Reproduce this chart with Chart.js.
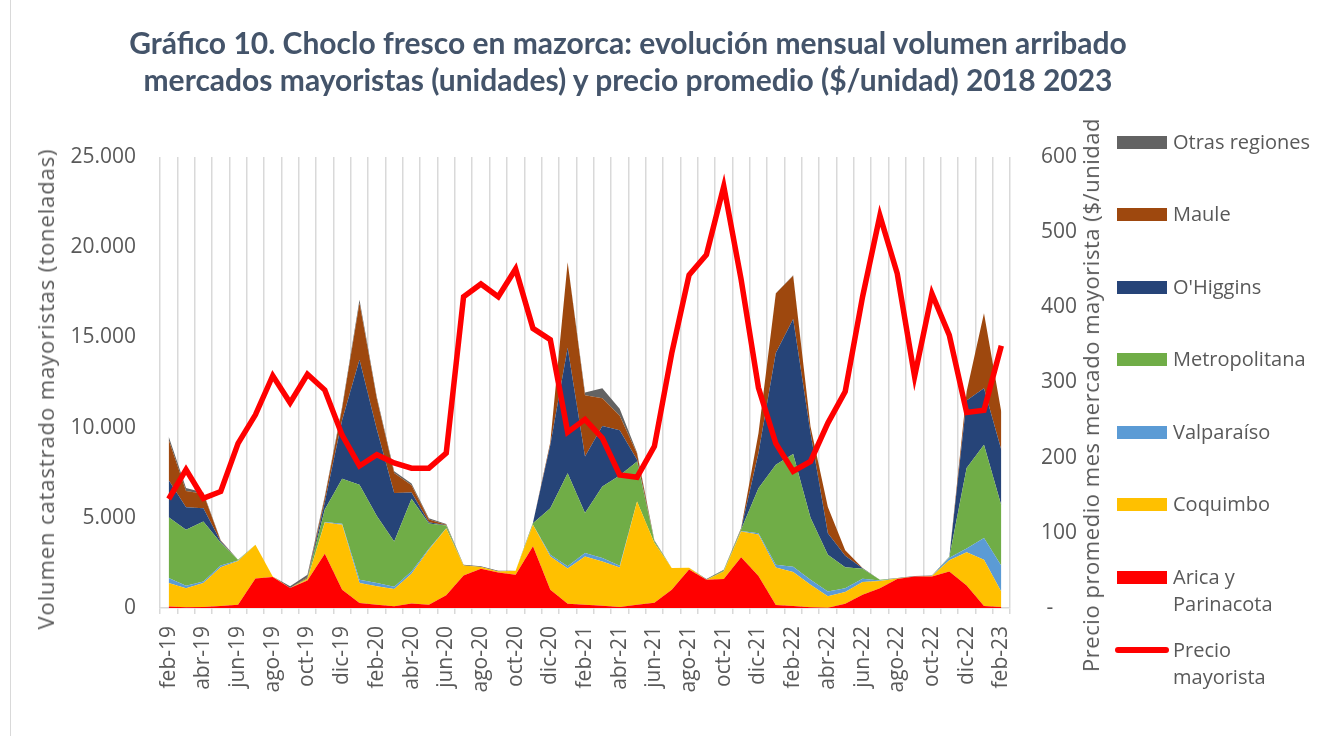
<!DOCTYPE html>
<html><head><meta charset="utf-8">
<script src="https://cdn.jsdelivr.net/npm/chart.js@4.4.0/dist/chart.umd.min.js"></script>
<style>
html,body{margin:0;padding:0;background:#fff;}
#wrap{position:relative;width:1321px;height:736px;overflow:hidden;font-family:"Open Sans",sans-serif;color:#595959;background:#fff;}
#c{position:absolute;left:0;top:0;}
#frame{position:absolute;left:10px;top:-2px;width:1400px;height:1000px;border:1px solid #D9D9D9;}
#title{position:absolute;left:0;top:24px;width:1256px;text-align:center;color:#44546A;font-family:Lato,sans-serif;font-weight:bold;font-size:30px;line-height:37px;}
#ltitle{position:absolute;left:45px;top:389px;transform:translate(-50%,-50%) rotate(-90deg);white-space:nowrap;font-size:22px;letter-spacing:0.9px;color:#595959;}
#rtitle{position:absolute;left:1090px;top:395px;transform:translate(-50%,-50%) rotate(-90deg);white-space:nowrap;font-size:22px;letter-spacing:0.55px;color:#595959;}
.lg{position:absolute;left:1173px;font-size:20px;line-height:27px;color:#595959;white-space:nowrap;}
.sw{position:absolute;left:1117px;width:50px;height:13px;}
</style></head>
<body><div id="wrap">
<div id="frame"></div>
<canvas id="c" width="1321" height="736"></canvas>
<div id="title">Gráfico 10. Choclo fresco en mazorca: evolución mensual volumen arribado<br>mercados mayoristas (unidades) y precio promedio ($/unidad) 2018 2023</div>
<div id="ltitle">Volumen catastrado mayoristas (toneladas)</div>
<div id="rtitle">Precio promedio mes mercado mayorista ($/unidad</div>
<div id="legend"></div>
</div>
<script>
const months = ['feb-19','mar-19','abr-19','may-19','jun-19','jul-19','ago-19','sep-19','oct-19','nov-19','dic-19','ene-20',
'feb-20','mar-20','abr-20','may-20','jun-20','jul-20','ago-20','sep-20','oct-20','nov-20','dic-20','ene-21',
'feb-21','mar-21','abr-21','may-21','jun-21','jul-21','ago-21','sep-21','oct-21','nov-21','dic-21','ene-22',
'feb-22','mar-22','abr-22','may-22','jun-22','jul-22','ago-22','sep-22','oct-22','nov-22','dic-22','ene-23','feb-23'];

const arica = [90,40,60,110,180,1630,1720,1110,1520,3010,1016,280,185,100,250,180,700,1800,2170,1970,1850,3420,1016,230,185,130,60,185,290,1016,2130,1570,1607,2815,1780,170,110,40,20,230,740,1100,1610,1740,1750,2030,1250,110,55];
const coquimbo = [1295,1050,1325,2150,2420,1880,20,0,80,1735,3600,1100,1015,950,1650,3050,3700,550,100,60,220,1200,1845,1960,2676,2450,2180,5720,3310,1200,100,0,420,1430,2290,2070,1880,1250,630,650,700,400,30,0,20,620,1840,2570,840];
const valparaiso = [280,150,90,100,30,0,0,0,0,20,50,185,185,130,130,50,20,0,0,0,0,0,95,130,185,185,100,0,0,0,0,0,0,20,70,160,300,280,270,220,180,30,0,0,0,130,210,1200,1450];
const metropolitana = [3360,3100,3320,1260,40,0,0,0,50,700,2500,5270,3715,2500,4020,1400,150,0,0,0,0,80,2580,5150,2215,3970,5000,2215,100,0,0,0,50,80,2500,5540,6250,3430,2030,1160,550,40,0,0,0,40,4460,5170,3340];
const ohiggins = [2050,1240,740,60,0,0,0,0,0,400,3250,6930,4800,2700,350,80,20,0,0,0,0,30,3500,6950,3138,3360,2520,100,0,0,0,0,0,40,1950,6190,7480,4700,1200,640,30,0,0,0,0,0,3740,3130,3080];
const maule = [2250,900,800,50,0,0,0,0,50,250,650,3140,1700,1100,400,150,20,0,0,0,0,0,150,4750,3400,1530,800,350,0,0,0,0,0,30,1100,3300,2400,360,1450,300,20,0,0,0,0,0,500,4160,2100];
const otras = [185,170,70,20,10,0,0,90,150,80,100,180,100,100,100,60,50,50,40,40,0,0,0,0,150,550,380,50,50,0,0,40,50,20,0,20,30,0,0,0,0,0,20,40,30,20,0,0,0];
const precio = [145,184,146,155,219,257,309,273,311,290,230,189,204,193,186,186,206,414,431,414,451,372,357,234,251,226,177,174,215,339,443,470,561,437,293,219,182,195,246,288,414,522,445,308,418,363,260,263,349];

const leftTicks = [0,5000,10000,15000,20000,25000];
const rightTicks = [0,100,200,300,400,500,600];

const series = [
  {label:'Arica y Parinacota', data:arica, color:'#FF0000'},
  {label:'Coquimbo', data:coquimbo, color:'#FFC000'},
  {label:'Valparaíso', data:valparaiso, color:'#5B9BD5'},
  {label:'Metropolitana', data:metropolitana, color:'#70AD47'},
  {label:"O'Higgins", data:ohiggins, color:'#264478'},
  {label:'Maule', data:maule, color:'#9E480E'},
  {label:'Otras regiones', data:otras, color:'#636363'}
];

const datasets = series.map((s,i)=>({
  type:'line', label:s.label, data:s.data, yAxisID:'y',
  backgroundColor:s.color, borderColor:s.color, borderWidth:0,
  pointRadius:0, fill: i===0 ? 'origin' : '-1', tension:0, order:1
}));
datasets.push({
  type:'line', label:'Precio mayorista', data:precio, yAxisID:'y1',
  borderColor:'#FF0000', backgroundColor:'#FF0000', borderWidth:5.5,
  pointRadius:0, fill:false, tension:0, order:0, borderJoinStyle:'miter', borderCapStyle:'butt'
});

const fmt = v => String(v).replace(/\B(?=(\d{3})+(?!\d))/g,'.');

new Chart(document.getElementById('c'), {
  type:'line',
  data:{labels:months, datasets},
  options:{
    responsive:false, animation:false, devicePixelRatio:1,
    layout:{padding:{top:157,left:0,right:0,bottom:0}},
    plugins:{legend:{display:false}, tooltip:{enabled:false}},
    scales:{
      x:{
        offset:true,
        grid:{offset:true, color:'#D9D9D9', lineWidth:1.5, tickLength:6, drawTicks:true},
        border:{color:'#D9D9D9', width:1.5},
        ticks:{autoSkip:false, maxRotation:90, minRotation:90, padding:12, color:'#595959',
          font:{family:'"Open Sans"', size:21},
          callback:(v,i)=> i%2===0 ? months[i] : ''},
        afterFit:s=>{s.height=128;}
      },
      y:{
        stacked:true, min:0, max:25000,
        afterBuildTicks:s=>{s.ticks = leftTicks.map(v=>({value:v}));},
        ticks:{color:'#595959', padding:16, font:{family:'"Open Sans"', size:21}, callback:v=>fmt(v)},
        grid:{display:false}, border:{display:false},
        afterFit:s=>{s.width=160;}
      },
      y1:{
        position:'right', min:0, max:600,
        afterBuildTicks:s=>{s.ticks = rightTicks.map(v=>({value:v}));},
        ticks:{color:'#595959', padding:23, font:{family:'"Open Sans"', size:21}, callback:v=> v===0 ? ' -' : String(v)},
        grid:{display:false}, border:{display:false},
        afterFit:s=>{s.width=311;}
      }
    }
  }
});

// legend (HTML)
const legendOrder = [6,5,4,3,2,1,0];
const lg = document.getElementById('legend');
const ys = [142,214,287,359,432,504,577];
legendOrder.forEach((si,k)=>{
  const s = series[si];
  const sw = document.createElement('div'); sw.className='sw';
  sw.style.top = (ys[k]-6.5)+'px'; sw.style.background = s.color; lg.appendChild(sw);
  const t = document.createElement('div'); t.className='lg';
  t.style.top = (ys[k]-14)+'px';
  t.innerHTML = s.label==='Arica y Parinacota' ? 'Arica y<br>Parinacota' : s.label;
  lg.appendChild(t);
});
const ln = document.createElement('div'); ln.className='sw';
ln.style.top='647px'; ln.style.height='6px'; ln.style.borderRadius='3px'; ln.style.background='#FF0000';
ln.style.left='1115px'; ln.style.width='54px';
lg.appendChild(ln);
const lt = document.createElement('div'); lt.className='lg'; lt.style.top='636px';
lt.innerHTML='Precio<br>mayorista'; lg.appendChild(lt);
</script>
</body></html>
